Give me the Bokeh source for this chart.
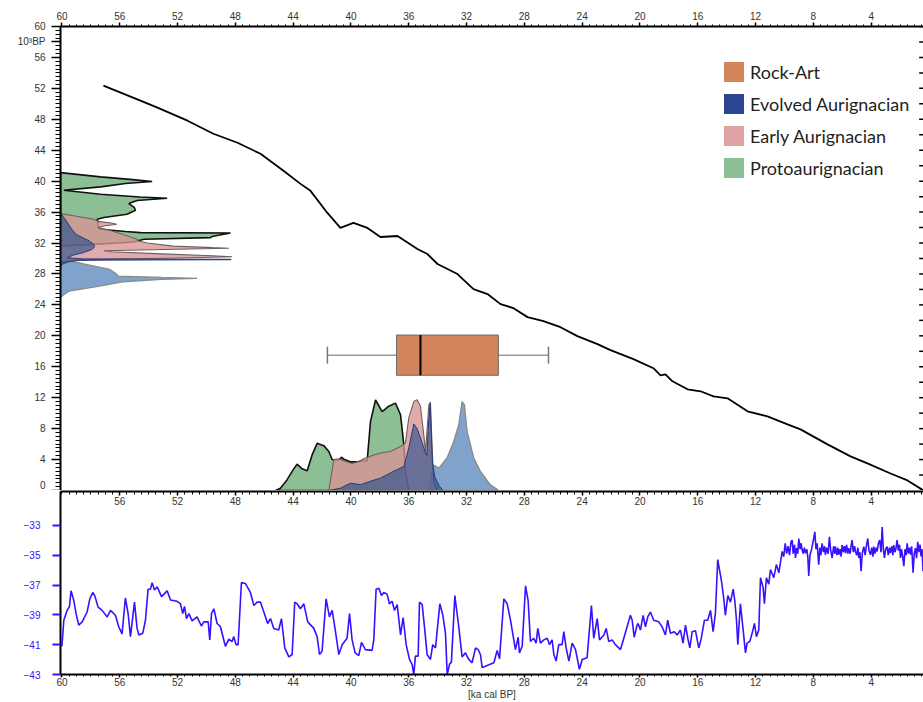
from bokeh.plotting import figure
from bokeh.models import (Range1d, LinearAxis, FixedTicker, Legend, LegendItem)
from bokeh.layouts import column
from bokeh.embed import file_html
from bokeh.resources import INLINE

# ---------------- data ----------------
# calibration curve: calendar age (ka cal BP) vs radiocarbon age (10^3 BP)
calib_ka = [57.13, 54.57, 53.39, 51.31, 49.52, 47.85, 46.26, 44.67, 43.49, 42.80, 41.63,
            40.73, 39.83, 38.86, 37.96, 36.78, 35.40, 34.71, 34.01, 32.63, 31.52, 30.55,
            29.65, 28.75, 27.78, 26.68, 25.50, 24.33, 22.94, 22.04, 20.45, 19.07, 18.58,
            18.24, 17.75, 16.71, 15.81, 14.91, 13.94, 12.56, 11.18, 9.79, 8.89, 7.02,
            5.43, 4.26, 2.66, 1.49, 0.38]
calib_bp = [52.35, 50.41, 49.50, 47.82, 46.13, 44.97, 43.54, 41.34, 39.65, 38.75, 35.89,
            33.95, 34.60, 33.95, 32.78, 32.91, 31.23, 30.58, 29.29, 27.99, 26.05, 25.40,
            24.10, 23.58, 22.42, 21.90, 21.12, 19.96, 18.92, 18.15, 16.98, 15.81, 14.90,
            15.03, 14.12, 13.09, 12.83, 12.18, 11.92, 10.24, 9.59, 8.55, 7.90, 5.96,
            4.41, 3.50, 2.20, 1.30, 0.0]

# calibrated densities (along calendar axis)
proto_cal_ka = [45.22, 44.88, 44.42, 43.96, 43.73, 43.38, 43.03, 42.69, 42.34, 41.88, 41.53,
                41.30, 41.10, 40.80, 40.66, 40.45, 40.0, 39.5, 39.1, 38.88, 38.65, 38.30,
                37.84, 37.38, 36.92, 36.57, 36.34, 36.23, 36.0]
proto_cal_h = [0, 0.3, 1.4, 2.8, 3.4, 2.8, 2.55, 4.6, 6.1, 5.8, 5.05,
               4.0, 3.9, 4.0, 4.3, 4.0, 3.7, 3.7, 3.9, 3.8, 8.9, 11.7,
               10.2, 10.9, 11.3, 9.8, 5.9, 2.5, 0]
early_cal_ka = [41.53, 41.19, 40.84, 40.38, 39.92, 39.46, 39.11, 38.42, 37.96, 37.27, 36.57,
                36.23, 36.0, 35.65, 35.42, 35.19, 34.95, 34.84, 34.61, 34.5, 34.38, 34.27, 34.04]
early_cal_h = [0, 4.0, 4.1, 3.76, 3.5, 3.76, 4.1, 4.6, 4.84, 5.05, 5.7,
               6.13, 9.4, 11.5, 11.75, 10.9, 7.0, 5.05, 11.1, 11.45, 5.5, 1.2, 0]
evolved_cal_ka = [41.53, 40.73, 40.04, 39.34, 38.65, 37.96, 37.04, 36.34, 36.0, 35.65, 35.42,
                  35.19, 34.96, 34.75, 34.62, 34.52, 34.43, 34.36, 34.2, 33.9, 33.6]
evolved_cal_h = [0, 0.3, 0.95, 0.75, 1.2, 1.6, 2.5, 3.1, 5.5, 8.6, 8.0,
                 6.8, 5.5, 4.5, 9.0, 11.2, 7.0, 3.5, 1.8, 0.6, 0]
other_cal_ka = [34.6, 34.45, 34.27, 33.92, 33.35, 32.89, 32.54, 32.31, 32.15, 31.96, 31.5,
                31.04, 30.35, 29.77]
other_cal_h = [0, 2.0, 3.3, 2.9, 4.2, 6.35, 8.5, 11.5, 11.1, 7.6, 4.2, 2.46, 0.73, 0]

# radiocarbon densities (along radiocarbon axis, width in ka units from the left edge)
proto_rc_bp = [41.1, 40.56, 40.2, 39.95, 39.7, 39.26, 38.83, 38.31, 37.95, 37.8, 37.5, 37.1,
               36.6, 36.24, 35.72, 35.3, 35.08, 34.6, 34.0, 33.78, 33.5, 33.35, 33.3, 33.1,
               32.85, 32.7, 32.48, 32.14, 32.0, 31.6]
proto_rc_w = [0, 2.77, 5.0, 6.34, 4.5, 2.77, 0.23, 2.77, 5.5, 7.38, 5.3, 4.73,
              5.1, 5.19, 4.61, 3.0, 2.54, 2.6, 2.6, 2.77, 4.5, 5.54, 11.76, 11.2,
              10.5, 10.38, 5.77, 5.07, 4.0, 0]
early_rc_bp = [35.8, 35.5, 35.08, 34.8, 34.6, 34.43, 34.2, 34.0, 33.6, 33.0, 32.5, 32.27,
               32.0, 31.6, 31.4, 31.32, 31.2, 31.0, 30.88, 30.6, 30.35, 30.23, 30.1, 29.9,
               29.7, 29.5]
early_rc_w = [0, 1.0, 2.3, 2.6, 3.5, 3.9, 3.0, 2.6, 3.5, 4.5, 5.3, 5.4,
              6.0, 7.8, 10.5, 11.65, 8.0, 3.0, 3.5, 7.0, 10.5, 11.88, 9.0, 3.5,
              1.0, 0]
evolved_rc_bp = [35.9, 35.0, 34.0, 33.13, 32.27, 31.84, 31.5, 31.19, 30.77, 30.45, 30.1,
                 29.95, 29.9, 29.84, 29.78, 29.6, 29.25, 28.8]
evolved_rc_w = [0, 0.35, 0.7, 1.05, 2.0, 2.3, 2.35, 2.2, 1.6, 0.9, 0.45,
                1.5, 11.8, 11.8, 1.2, 0.6, 0.1, 0]
other_rc_bp = [29.7, 29.55, 29.3, 28.95, 28.6, 28.1, 27.73, 27.55, 27.43, 27.3, 26.99,
               26.43, 25.79, 25.3, 24.9]
other_rc_w = [0, 1.0, 1.6, 2.5, 3.4, 3.8, 4.0, 7.0, 9.46, 7.0, 4.3,
              2.7, 0.6, 0.2, 0]

# Rock-Art box plot (ka cal BP)
rockart_whisker_lo = 41.63
rockart_q1 = 36.85
rockart_median = 35.19
rockart_q3 = 29.80
rockart_whisker_hi = 26.33

legend_labels = ["Rock-Art", "Evolved Aurignacian", "Early Aurignacian", "Protoaurignacian"]
legend_colors = ["#d4845a", "#2c4693", "#e0a3a3", "#8cbf94"]

# isotope record (ka cal BP, permil)
iso_ka = [60.0, 59.87, 59.64, 59.48, 59.37, 59.18, 59.02, 58.84, 58.60, 58.26, 58.07, 57.87,
          57.73, 57.50, 57.22, 56.87, 56.64, 56.30, 56.07, 55.84, 55.61, 55.42, 55.26, 54.98,
          54.80, 54.68, 54.41, 54.22, 54.04, 53.88, 53.76, 53.60, 53.41, 53.11, 52.72, 52.49,
          52.03, 51.80, 51.64, 51.52, 51.38, 51.22, 50.99, 50.65, 50.35, 50.18, 49.88, 49.77,
          49.65, 49.49, 49.26, 49.03, 48.69, 48.45, 48.22, 48.11, 47.95, 47.81, 47.58, 47.30,
          46.96, 46.72, 46.49, 46.26, 46.03, 45.76, 45.57, 45.34, 45.00, 44.81, 44.58, 44.30,
          44.07, 43.89, 43.73, 43.50, 43.26, 42.99, 42.57, 42.34, 42.18, 42.00, 41.72, 41.49,
          41.30, 41.12, 40.84, 40.61, 40.27, 40.10, 39.92, 39.71, 39.46, 39.27, 39.00, 38.54,
          38.42, 38.26, 38.07, 37.89, 37.73, 37.50, 37.34, 37.15, 36.99, 36.80, 36.57, 36.39,
          36.18, 35.95, 35.77, 35.65, 35.54, 35.35, 35.26, 35.07, 34.89, 34.73, 34.50, 34.34,
          34.15, 33.85, 33.64, 33.46, 33.34, 33.18, 33.05, 32.81, 32.54, 32.31, 32.08, 31.85,
          31.62, 31.38, 31.20, 31.04, 30.92, 30.58, 30.11, 29.88, 29.72, 29.42, 29.19, 28.96,
          28.62, 28.43, 28.34, 28.15, 27.92, 27.74, 27.58, 27.35, 27.19, 27.07, 26.89, 26.65,
          26.42, 26.26, 26.08, 25.96, 25.80, 25.62, 25.39, 25.27, 25.11, 24.92, 24.69, 24.46,
          24.19, 24.00, 23.66, 23.36, 23.20, 22.96, 22.80, 22.50, 22.34, 22.16, 21.93, 21.70,
          21.35, 21.12, 20.89, 20.66, 20.54, 20.40, 20.20, 20.13, 19.97, 19.78, 19.62, 19.46,
          19.28, 19.05, 18.70, 18.47, 18.24, 18.08, 17.89, 17.62, 17.43, 17.20, 17.02, 16.85,
          16.69, 16.55, 16.39, 16.16, 15.93, 15.77, 15.54, 15.31, 15.12, 14.94, 14.78, 14.62,
          14.48, 14.36, 14.20, 14.09, 13.92, 13.74, 13.55, 13.44, 13.32, 13.23, 13.05, 12.86,
          12.70, 12.59, 12.40, 12.24, 12.08, 11.94, 11.78, 11.66, 11.48, 11.39, 11.25, 11.09,
          10.97, 10.74, 10.56, 10.39, 10.16,
          10.05, 9.95, 9.85, 9.75, 9.65, 9.55, 9.47, 9.40, 9.30, 9.24, 9.15, 9.08,
          9.01, 8.92, 8.85, 8.78, 8.70, 8.62, 8.55, 8.45, 8.38, 8.32, 8.24, 8.15,
          8.09, 8.00, 7.90, 7.82, 7.74, 7.63, 7.55, 7.48, 7.40, 7.30, 7.22, 7.17,
          7.08, 6.98, 6.89, 6.80, 6.70, 6.60, 6.52, 6.47, 6.38, 6.30, 6.24, 6.15,
          6.08, 6.01, 5.92, 5.85, 5.78, 5.70, 5.62, 5.55, 5.46, 5.38, 5.32, 5.24,
          5.15, 5.09, 5.00, 4.92, 4.86, 4.78, 4.70, 4.62, 4.51, 4.42, 4.35, 4.24,
          4.15, 4.05, 3.96, 3.88, 3.82, 3.74, 3.66, 3.59, 3.50, 3.41, 3.32, 3.24,
          3.16, 3.08, 3.00, 2.90, 2.82, 2.74, 2.67, 2.58, 2.50, 2.44, 2.35, 2.28,
          2.21, 2.12, 2.04, 1.97, 1.90, 1.82, 1.74, 1.66, 1.58, 1.51, 1.43, 1.35,
          1.28, 1.20, 1.10, 1.02, 0.94, 0.86, 0.78, 0.70, 0.62, 0.55, 0.48, 0.41]
iso_val = [-41.11, -39.36, -38.70, -38.44, -37.39, -38.04, -38.92, -39.69, -39.47, -38.81, -37.93, -37.50,
           -37.71, -38.48, -38.70, -39.14, -38.70, -39.03, -39.80, -40.28, -37.87, -38.92, -40.46, -38.15,
           -39.91, -40.35, -40.24, -39.36, -37.28, -37.28, -36.84, -37.34, -37.12, -37.78, -37.39, -38.00,
           -38.09, -38.26, -38.92, -38.44, -39.25, -38.92, -39.40, -39.14, -39.75, -39.47, -39.47, -40.68,
           -38.92, -38.59, -39.58, -39.80, -41.11, -40.63, -40.79, -40.46, -41.00, -41.00, -36.84, -36.90,
           -37.50, -38.37, -38.15, -38.15, -38.81, -39.58, -39.25, -39.91, -40.02, -39.25, -41.22, -41.82,
           -41.66, -38.15, -38.26, -38.59, -38.26, -39.47, -39.91, -40.46, -41.66, -41.44, -37.93, -39.14,
           -38.70, -39.80, -41.66, -41.00, -40.57, -38.92, -40.68, -41.55, -41.73, -40.85, -41.33, -41.38,
           -40.68, -37.28, -37.21, -37.71, -37.50, -37.61, -38.26, -38.09, -38.70, -38.31, -40.35, -39.18,
           -41.00, -41.99, -42.32, -43.00, -41.77, -41.77, -38.15, -38.31, -40.02, -41.66, -41.99, -41.00,
           -41.22, -38.26, -39.03, -40.24, -43.00, -42.32, -42.17, -37.71, -39.80, -41.82, -41.55, -41.99,
           -42.21, -41.22, -41.33, -41.66, -42.54, -42.39, -42.21, -41.38, -41.95, -37.93, -38.26, -39.36,
           -41.33, -40.50, -41.55, -41.11, -37.06, -38.04, -40.79, -40.57, -40.90, -39.91, -40.90, -40.68,
           -40.57, -41.00, -40.68, -41.66, -42.10, -41.00, -41.00, -40.13, -41.22, -42.10, -40.90, -41.33,
           -42.65, -41.99, -41.88, -38.37, -40.57, -39.25, -40.68, -40.35, -39.91, -40.79, -40.68, -41.00,
           -41.33, -40.57, -39.80, -39.03, -39.36, -40.50, -39.69, -39.58, -40.02, -39.03, -39.80, -39.14,
           -38.81, -39.36, -39.47, -39.80, -40.35, -39.36, -40.24, -40.13, -40.35, -40.02, -40.90, -39.69,
           -40.57, -41.22, -40.13, -40.06, -41.22, -40.63, -39.36, -39.36, -38.70, -40.13, -38.92, -35.30,
           -36.07, -36.73, -37.93, -39.03, -37.71, -38.15, -37.28, -38.04, -39.36, -41.00, -38.26, -40.02,
           -41.55, -40.90, -40.79, -40.24, -39.58, -40.46, -40.02, -36.51, -37.17, -38.26, -36.51, -36.95,
           -35.96, -36.51, -35.63, -36.18, -34.75,
           -35.10, -34.20, -34.90, -34.40, -35.00, -34.10, -33.99, -34.90, -34.30, -35.19, -34.50, -34.90,
           -33.88, -34.60, -34.20, -34.64, -34.90, -34.50, -34.86, -34.60, -35.20, -36.40, -35.00, -34.70,
           -34.43, -34.00, -33.44, -34.60, -34.20, -35.63, -34.50, -35.00, -34.21, -34.80, -34.40, -34.97,
           -34.50, -34.90, -33.77, -34.70, -35.19, -34.40, -34.90, -34.43, -35.00, -34.50, -34.97, -34.60,
           -35.10, -34.32, -34.80, -34.40, -34.86, -34.30, -34.90, -34.53, -34.90, -34.30, -33.99, -34.80,
           -34.40, -34.75, -35.00, -34.50, -35.19, -34.80, -36.07, -34.90, -34.43, -35.00, -34.50, -33.88,
           -34.70, -34.97, -34.50, -35.10, -34.43, -34.90, -34.50, -34.75, -34.20, -33.99, -34.80, -33.11,
           -34.60, -35.19, -34.60, -34.43, -35.00, -34.50, -34.86, -34.40, -35.00, -34.32, -34.80, -34.50,
           -33.99, -34.70, -34.30, -35.19, -34.60, -35.10, -35.74, -34.60, -35.00, -34.21, -34.90, -34.50,
           -34.97, -34.40, -36.18, -34.90, -34.53, -35.20, -34.10, -34.80, -34.30, -35.08, -34.60, -36.07]

cal_ticks = [60, 56, 52, 48, 44, 40, 36, 32, 28, 24, 20, 16, 12, 8, 4]
bp_ticks = [0, 4, 8, 12, 16, 20, 24, 28, 32, 36, 40, 44, 48, 52, 56, 58, 60]
right_ticks = list(range(0, 61, 2))
iso_ticks = [-33, -35, -37, -39, -41, -43]

# ---------------- layout constants ----------------
X_LEFT, X_RIGHT = 60.1, 0.38
LABEL_FONT = "Liberation Sans"
TICK_COLOR = "#333333"
ISO_COLOR = "#3a10ff"
half_minor = [i * 0.5 for i in range(0, 121)]
NAN = float("nan")

top = figure(width=923, height=490, x_range=Range1d(X_LEFT, X_RIGHT), y_range=Range1d(0, 60),
             output_backend="svg", toolbar_location=None,
             x_axis_location=None, y_axis_location=None,
             min_border_left=60, min_border_right=0, min_border_top=26, min_border_bottom=0)
top.outline_line_color = None
top.xgrid.visible = False
top.ygrid.visible = False

# axes of top panel
ax_top = LinearAxis(ticker=FixedTicker(ticks=cal_ticks, minor_ticks=half_minor))
ax_top.major_tick_out = 4
ax_top.major_tick_in = 0
ax_top.minor_tick_out = 2
ax_top.minor_tick_in = 0
ax_top.major_label_standoff = 3
top.add_layout(ax_top, "above")

ax_left = LinearAxis(ticker=FixedTicker(ticks=bp_ticks, minor_ticks=half_minor))
ax_left.major_label_overrides = {58: "10³BP"}
ax_left.major_tick_out = 9
ax_left.major_tick_in = 0
ax_left.minor_tick_out = 5
ax_left.minor_tick_in = 0
ax_left.major_label_standoff = 6
top.add_layout(ax_left, "left")

for ax in (ax_top, ax_left):
    ax.axis_line_width = 2
    ax.major_tick_line_width = 1.5
    ax.major_label_text_font = LABEL_FONT
    ax.major_label_text_color = TICK_COLOR
    ax.major_label_text_font_size = "10px"

# short tick marks along the right edge of the upper panel
top.segment([X_RIGHT] * len(right_ticks), right_ticks,
            [X_RIGHT + 0.3] * len(right_ticks), right_ticks,
            line_color="black", line_width=1.5)

X_BASE = 60.1
# densities: light blue phase first
top.patch(other_cal_ka, other_cal_h, fill_color="#80a3cc", line_color="#8a8a8a", line_width=1.3)
top.patch([X_BASE - w for w in other_rc_w], other_rc_bp, fill_color="#80a3cc", line_color="#8a8a8a", line_width=1.3)
top.patch(proto_cal_ka, proto_cal_h, fill_color="#8cbf94", line_color="#111111", line_width=1.6)
top.patch([X_BASE - w for w in proto_rc_w], proto_rc_bp, fill_color="#8cbf94", line_color="#111111", line_width=1.6)
top.patch(early_cal_ka, early_cal_h, fill_color="#d99494", fill_alpha=0.78, line_color="#6f6060", line_width=1.1)
top.patch([X_BASE - w for w in early_rc_w], early_rc_bp, fill_color="#d99494", fill_alpha=0.78, line_color="#6f6060", line_width=1.1)
top.patch(evolved_cal_ka, evolved_cal_h, fill_color="#1c4a8c", fill_alpha=0.6, line_color="#2a3a78", line_width=1.0)
top.patch([X_BASE - w for w in evolved_rc_w], evolved_rc_bp, fill_color="#1c4a8c", fill_alpha=0.6, line_color="#2a3a78", line_width=1.0)

# calibration curve
top.line(calib_ka, calib_bp, line_color="black", line_width=1.8)

# Rock-Art box plot
BOX_Y, BOX_H, CAP_H = 17.5, 2.6, 1.1
top.segment([rockart_whisker_lo, rockart_q3], [BOX_Y, BOX_Y], [rockart_q1, rockart_whisker_hi], [BOX_Y, BOX_Y],
            line_color="#9a9a9a", line_width=1.5)
top.segment([rockart_whisker_lo, rockart_whisker_hi], [BOX_Y - CAP_H, BOX_Y - CAP_H],
            [rockart_whisker_lo, rockart_whisker_hi], [BOX_Y + CAP_H, BOX_Y + CAP_H],
            line_color="#777777", line_width=1.5)
top.quad(left=[rockart_q1], right=[rockart_q3], bottom=[BOX_Y - BOX_H], top=[BOX_Y + BOX_H],
         fill_color=legend_colors[0], line_color="#6b6b6b", line_width=1)
top.segment([rockart_median], [BOX_Y - BOX_H], [rockart_median], [BOX_Y + BOX_H],
            line_color="black", line_width=2)

# legend with opaque swatches (swatch renderers hold no drawable data)
items = []
for lab, col in zip(legend_labels, legend_colors):
    r = top.quad(left=[NAN], right=[NAN], top=[NAN], bottom=[NAN], fill_color=col, line_color=None)
    items.append(LegendItem(label=lab, renderers=[r]))
legend = Legend(items=items, location=(661, 310), orientation="vertical",
                glyph_width=25, glyph_height=25, label_height=25, spacing=7,
                padding=0, margin=0, label_standoff=4,
                border_line_color=None, background_fill_alpha=0,
                label_text_font="Lato", label_text_font_size="18px",
                label_text_color="#231f20")
top.add_layout(legend)

# ---------------- bottom panel ----------------
bot = figure(width=923, height=212, x_range=top.x_range, y_range=Range1d(-43, -30.73),
             output_backend="svg", toolbar_location=None,
             x_axis_location=None, y_axis_location=None,
             min_border_left=60, min_border_right=0, min_border_top=1, min_border_bottom=25)
bot.outline_line_color = None
bot.xgrid.visible = False
bot.ygrid.visible = False

bx_top = LinearAxis(ticker=FixedTicker(ticks=cal_ticks[1:], minor_ticks=half_minor))
bx_top.major_tick_out = 0
bx_top.major_tick_in = 4
bx_top.minor_tick_out = 0
bx_top.minor_tick_in = 3
bx_top.major_label_standoff = -13
bot.add_layout(bx_top, "above")

bx_bot = LinearAxis(ticker=FixedTicker(ticks=cal_ticks, minor_ticks=half_minor))
bx_bot.major_tick_out = 3
bx_bot.major_tick_in = 0
bx_bot.minor_tick_out = 2
bx_bot.minor_tick_in = 0
bx_bot.major_label_standoff = 0
bx_bot.axis_label = "[ka cal BP]"
bx_bot.axis_label_standoff = 0
bx_bot.axis_label_text_font_style = "normal"
bx_bot.axis_label_text_font = LABEL_FONT
bx_bot.axis_label_text_font_size = "10px"
bx_bot.axis_label_text_color = TICK_COLOR
bot.add_layout(bx_bot, "below")

by_left = LinearAxis(ticker=FixedTicker(ticks=iso_ticks, minor_ticks=[]))
by_left.major_tick_out = 8
by_left.major_tick_in = 0
by_left.major_tick_line_color = ISO_COLOR
by_left.major_tick_line_width = 2
by_left.major_label_text_color = ISO_COLOR
by_left.major_label_standoff = 12
bot.add_layout(by_left, "left")

for ax in (bx_top, bx_bot, by_left):
    ax.axis_line_width = 2
    ax.major_label_text_font = LABEL_FONT
    ax.major_label_text_font_size = "10px"
for ax in (bx_top, bx_bot):
    ax.major_label_text_color = TICK_COLOR
    ax.major_tick_line_width = 1.5

bot.line(iso_ka, iso_val, line_color=ISO_COLOR, line_width=1.6)

layout = column(top, bot, spacing=0)
open("out.html", "w").write(file_html(layout, INLINE))
